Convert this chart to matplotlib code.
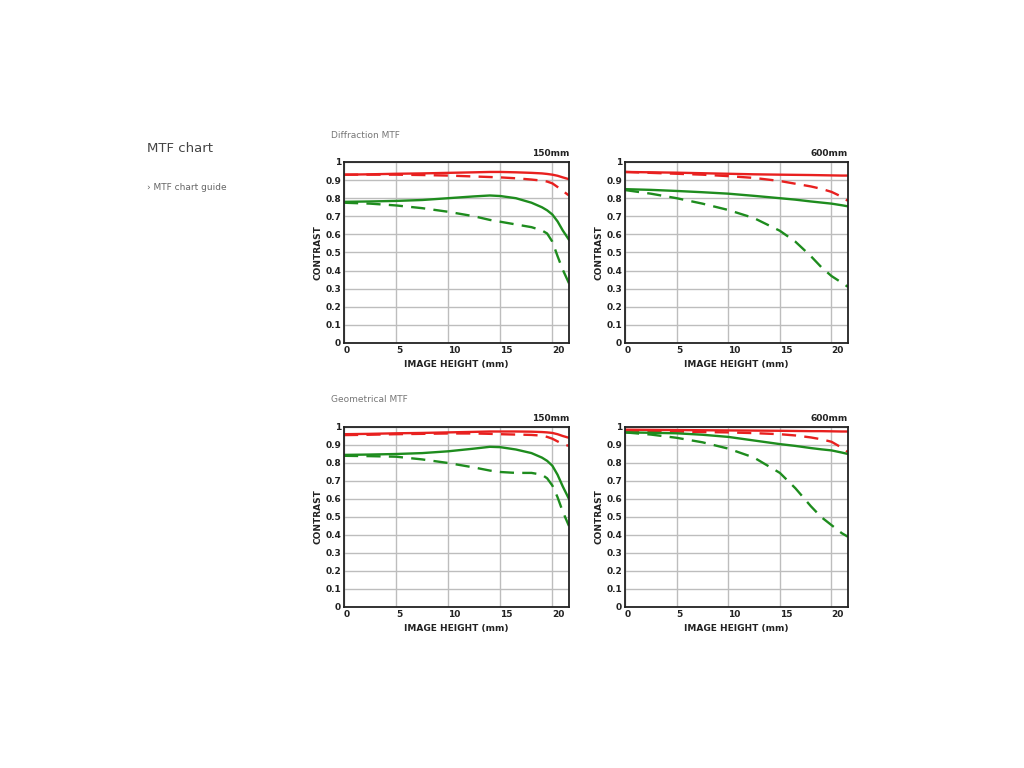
import matplotlib
matplotlib.use("Agg")
import matplotlib.pyplot as plt
import numpy as np

plt.rcParams['font.family'] = ['DejaVu Sans']

# ---- data ----
x_ticks = [0, 5, 10, 15, 20]
y_ticks = [0, 0.1, 0.2, 0.3, 0.4, 0.5, 0.6, 0.7, 0.8, 0.9, 1]
y_tick_labels = ["0", "0.1", "0.2", "0.3", "0.4", "0.5", "0.6", "0.7", "0.8", "0.9", "1"]

# Diffraction 150mm
d150_x = [0, 2.5, 5, 7.5, 10, 12.5, 14, 15, 16.5, 18, 19, 19.5, 20, 20.5, 21, 21.6]
d150_red_solid = [0.930, 0.932, 0.935, 0.937, 0.940, 0.943, 0.945, 0.945, 0.943, 0.940, 0.937, 0.934, 0.930, 0.924, 0.915, 0.905]
d150_red_dash = [0.930, 0.930, 0.930, 0.928, 0.925, 0.920, 0.917, 0.915, 0.910, 0.903, 0.897, 0.892, 0.882, 0.862, 0.840, 0.815]
d150_green_solid = [0.780, 0.782, 0.785, 0.790, 0.800, 0.810, 0.815, 0.812, 0.800, 0.775, 0.750, 0.733, 0.710, 0.672, 0.622, 0.570]
d150_green_dash = [0.775, 0.770, 0.760, 0.745, 0.725, 0.700, 0.680, 0.670, 0.655, 0.640, 0.622, 0.605, 0.560, 0.480, 0.405, 0.330]

# Diffraction 600mm
d600_x = [0, 2.5, 5, 7.5, 10, 12.5, 15, 16.5, 18, 19, 20, 21, 21.6]
d600_red_solid = [0.945, 0.943, 0.941, 0.938, 0.935, 0.932, 0.930, 0.929, 0.928, 0.927, 0.926, 0.925, 0.925]
d600_red_dash = [0.945, 0.940, 0.935, 0.930, 0.922, 0.912, 0.895, 0.880, 0.865, 0.852, 0.835, 0.808, 0.785]
d600_green_solid = [0.850, 0.846, 0.840, 0.833, 0.825, 0.813, 0.800, 0.792, 0.782, 0.776, 0.770, 0.761, 0.755]
d600_green_dash = [0.845, 0.825, 0.800, 0.770, 0.735, 0.690, 0.620, 0.560, 0.480, 0.420, 0.370, 0.333, 0.310]

# Geometrical 150mm
g150_x = [0, 2.5, 5, 7.5, 10, 12.5, 14, 15, 16.5, 18, 19, 19.5, 20, 20.5, 21, 21.6]
g150_red_solid = [0.960, 0.962, 0.965, 0.967, 0.970, 0.973, 0.975, 0.975, 0.975, 0.974, 0.972, 0.970, 0.967, 0.960, 0.950, 0.940]
g150_red_dash = [0.955, 0.957, 0.960, 0.962, 0.964, 0.964, 0.962, 0.960, 0.958, 0.956, 0.952, 0.945, 0.935, 0.920, 0.905, 0.895]
g150_green_solid = [0.845, 0.847, 0.850, 0.855, 0.865, 0.880, 0.890, 0.888, 0.875, 0.855, 0.830, 0.812, 0.785, 0.735, 0.670, 0.600]
g150_green_dash = [0.840, 0.838, 0.835, 0.820, 0.800, 0.775, 0.758, 0.750, 0.745, 0.745, 0.735, 0.715, 0.675, 0.610, 0.530, 0.450]

# Geometrical 600mm
g600_x = [0, 2.5, 5, 7.5, 10, 12.5, 15, 16.5, 18, 19, 20, 21, 21.6]
g600_red_solid = [0.985, 0.984, 0.983, 0.982, 0.981, 0.980, 0.979, 0.978, 0.977, 0.977, 0.976, 0.975, 0.975]
g600_red_dash = [0.980, 0.978, 0.975, 0.972, 0.970, 0.966, 0.960, 0.953, 0.942, 0.932, 0.918, 0.885, 0.860]
g600_green_solid = [0.970, 0.968, 0.965, 0.957, 0.945, 0.925, 0.905, 0.895, 0.883, 0.876, 0.870, 0.858, 0.850]
g600_green_dash = [0.970, 0.958, 0.940, 0.915, 0.880, 0.830, 0.745, 0.660, 0.560, 0.500, 0.455, 0.410, 0.390]

panels = [
    ("150mm", d150_x, d150_red_solid, d150_red_dash, d150_green_solid, d150_green_dash),
    ("600mm", d600_x, d600_red_solid, d600_red_dash, d600_green_solid, d600_green_dash),
    ("150mm", g150_x, g150_red_solid, g150_red_dash, g150_green_solid, g150_green_dash),
    ("600mm", g600_x, g600_red_solid, g600_red_dash, g600_green_solid, g600_green_dash),
]

W, H = 1024, 768
fig = plt.figure(figsize=(W / 100, H / 100), dpi=100)
fig.patch.set_facecolor("white")

rects_px = [
    (344, 162, 569, 343),
    (625, 162, 848, 343),
    (344, 427, 569, 607),
    (625, 427, 848, 607),
]

RED = "#e8201f"
GREEN = "#1e8c1e"
DASH = (6, 3.5)
for (title, xs, rs, rd, gs, gd), (x0, y0, x1, y1) in zip(panels, rects_px):
    ax = fig.add_axes([x0 / W, 1 - y1 / H, (x1 - x0) / W, (y1 - y0) / H])
    ax.set_xlim(0, 21.6)
    ax.set_ylim(0, 1)
    ax.set_xticks(x_ticks)
    ax.set_yticks(y_ticks)
    ax.set_yticklabels(y_tick_labels)
    ax.grid(True, color="#bdbdbd", linewidth=1.0)
    ax.set_axisbelow(True)
    for sp in ax.spines.values():
        sp.set_color("#222222")
        sp.set_linewidth(1.3)
    ax.tick_params(length=0, labelsize=6.5, pad=2, colors="#222222")
    for lab in ax.get_xticklabels() + ax.get_yticklabels():
        lab.set_fontweight("bold")
    for lab in ax.get_xticklabels():
        lab.set_horizontalalignment("left")
    ax.plot(xs, rs, color=RED, lw=1.7, solid_capstyle="butt")
    ax.plot(xs, rd, color=RED, lw=1.7, dashes=DASH)
    ax.plot(xs, gs, color=GREEN, lw=1.7)
    ax.plot(xs, gd, color=GREEN, lw=1.7, dashes=DASH)
    ax.set_xlabel("IMAGE HEIGHT (mm)", fontsize=6.5, fontweight="bold", color="#222222", labelpad=4)
    ax.set_ylabel("CONTRAST", fontsize=6.5, fontweight="bold", color="#222222", labelpad=2)
    ax.text(1.0, 1.02, title, transform=ax.transAxes, ha="right", va="bottom",
            fontsize=6.5, fontweight="bold", color="#222222")

fig.text(331 / W, 1 - 135 / H, "Diffraction MTF", fontsize=6.5, color="#777777", va="center")
fig.text(331 / W, 1 - 400 / H, "Geometrical MTF", fontsize=6.5, color="#777777", va="center")
fig.text(147 / W, 1 - 148 / H, "MTF chart", fontsize=9.5, color="#444444", va="center")
fig.text(147 / W, 1 - 187 / H, "› MTF chart guide", fontsize=6.5, color="#666666", va="center")

fig.savefig("out.png", dpi=100, facecolor="white")
